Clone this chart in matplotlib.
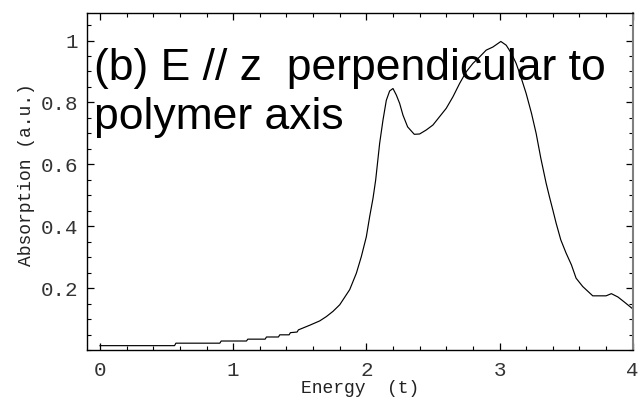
import matplotlib
matplotlib.use("Agg")
import matplotlib.pyplot as plt
from matplotlib.ticker import MultipleLocator

energy = [0.0, 0.56, 0.57, 0.90, 0.91, 1.10, 1.11, 1.24, 1.25, 1.34, 1.35, 1.42,
          1.43, 1.48, 1.49, 1.575, 1.65, 1.70, 1.75, 1.80, 1.875, 1.925, 1.9625,
          2.0, 2.025, 2.05, 2.07, 2.1, 2.125, 2.15, 2.175, 2.2, 2.225, 2.25, 2.275,
          2.31, 2.36, 2.4, 2.45, 2.5, 2.55, 2.6, 2.65, 2.7, 2.75, 2.8, 2.85, 2.9,
          2.95, 3.01, 3.05, 3.09, 3.125, 3.16, 3.2, 3.24, 3.275, 3.31, 3.35, 3.375,
          3.40, 3.425, 3.46, 3.50, 3.54, 3.575, 3.625, 3.70, 3.80, 3.84, 3.89,
          3.94, 4.0]
absorption = [0.014, 0.014, 0.022, 0.022, 0.029, 0.029, 0.035, 0.035, 0.042, 0.042,
              0.049, 0.049, 0.056, 0.058, 0.065, 0.080, 0.094, 0.108, 0.125, 0.146,
              0.195, 0.248, 0.302, 0.366, 0.431, 0.49, 0.549, 0.668, 0.743, 0.807,
              0.837, 0.845, 0.824, 0.797, 0.759, 0.721, 0.697, 0.698, 0.711, 0.727,
              0.754, 0.781, 0.818, 0.861, 0.899, 0.926, 0.947, 0.969, 0.979, 0.997,
              0.985, 0.958, 0.926, 0.883, 0.829, 0.765, 0.70, 0.62, 0.539, 0.495,
              0.453, 0.41, 0.356, 0.313, 0.275, 0.232, 0.205, 0.175, 0.175, 0.182,
              0.171, 0.154, 0.133]

xticks = [0, 1, 2, 3, 4]
yticks = [0.2, 0.4, 0.6, 0.8, 1.0]
ytick_labels = ["0.2", "0.4", "0.6", "0.8", "1"]
title_lines = ["(b) E // z  perpendicular to", "polymer axis"]

fig = plt.figure(figsize=(6.42, 4.04), dpi=100)
ax = fig.add_axes([0.135, 0.1337, 0.8505, 0.8349])

ax.plot(energy, absorption, color="black", linewidth=0.85)

ax.set_xlim(-0.1, 4.0)
ax.set_ylim(0, 1.09)
ax.set_xticks(xticks)
ax.set_xticklabels([str(t) for t in xticks])
ax.set_yticks(yticks)
ax.set_yticklabels(ytick_labels)
ax.xaxis.set_minor_locator(MultipleLocator(0.2))
ax.yaxis.set_minor_locator(MultipleLocator(0.05))

mono = "Liberation Mono"
ax.tick_params(which="both", direction="in", top=True, right=True,
               labeltop=False, labelright=False, colors="black")
ax.tick_params(which="major", length=5, width=0.9, labelsize=15, pad=6)
ax.tick_params(axis="x", which="major", pad=8)
ax.tick_params(which="minor", length=3, width=0.8)
for lbl in ax.get_xticklabels() + ax.get_yticklabels():
    lbl.set_fontfamily(mono)
    lbl.set_color("#333333")

for side in ["left", "bottom", "top"]:
    ax.spines[side].set_color("black")
    ax.spines[side].set_linewidth(1.0)
ax.spines["right"].set_color("#808080")
ax.spines["right"].set_linewidth(1.5)

ax.set_xlabel("Energy  (t)", fontfamily=mono, fontsize=13, labelpad=0, color="#222222")
ax.set_ylabel("Absorption (a.u.)", fontfamily=mono, fontsize=13, color="#222222")
ax.yaxis.set_label_coords(-0.095, 0.52)

ax.text(0.0143, 0.800, title_lines[0], transform=ax.transAxes,
        fontfamily="Liberation Sans", fontsize=32, va="baseline", ha="left",
        color="black")
ax.text(0.0143, 0.655, title_lines[1], transform=ax.transAxes,
        fontfamily="Liberation Sans", fontsize=32, va="baseline", ha="left",
        color="black")

fig.savefig("out.png", dpi=100)
